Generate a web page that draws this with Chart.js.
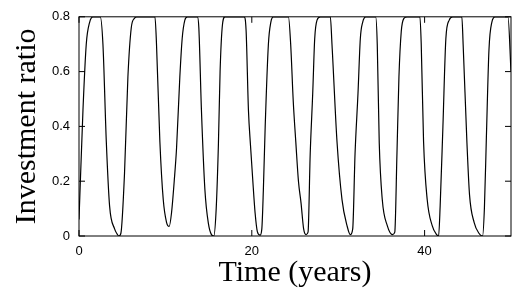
<!DOCTYPE html>
<html>
<head>
<meta charset="utf-8">
<script src="https://cdn.jsdelivr.net/npm/chart.js@4.4.1/dist/chart.umd.min.js"></script>
<style>
  html, body { margin: 0; padding: 0; background: #fff; }
</style>
</head>
<body>
<canvas id="chart" width="512" height="296"></canvas>
<script>
// time in years
const years = [
  0, 0.46, 0.84, 1.23, 1.62, 2.46, 2.77, 3.16, 3.54, 4.12, 4.4, 4.62, 4.85, 5.27, 5.66, 6.05, 6.43, 6.7,
  8.79, 8.97, 9.36, 9.75, 10.13, 10.44, 10.71, 11.02, 11.29, 11.67, 11.94, 12.25, 12.55,
  13.71, 13.87, 14.17, 14.57, 14.98, 15.33, 15.6, 15.88, 16.14, 16.33, 16.6, 16.9,
  19.11, 19.34, 19.61, 19.85, 20.1, 20.38, 20.65, 20.96, 21.16, 21.34, 21.55, 21.92, 22.2, 22.5,
  24.24, 24.5, 24.8, 25.1, 25.4, 25.7, 26.0, 26.28, 26.51, 26.76, 27.05, 27.28, 27.55, 27.93,
  29.09, 29.28, 29.86, 30.44, 31.02, 31.4, 31.68, 31.95, 32.29, 32.56, 32.83, 33.21,
  34.34, 34.52, 34.75, 35.1, 35.68, 36.3, 36.55, 36.8, 37.03, 37.3, 37.6, 37.99,
  39.46, 39.61, 39.88, 40.3, 40.88, 41.39, 41.62, 41.8, 42.12, 42.46, 42.85, 43.24,
  44.31, 44.46, 44.9, 45.2, 45.73, 46.31, 46.71, 46.92, 47.15, 47.45, 47.78, 48.17,
  49.65, 50
];

// investment ratio at each time
const ratios = [
  0.06, 0.46, 0.70, 0.78, 0.80, 0.80, 0.70, 0.345, 0.11, 0.026, 0.008, 0.0, 0.01, 0.23, 0.58, 0.76, 0.795, 0.80,
  0.80, 0.70, 0.345, 0.133, 0.05, 0.035, 0.085, 0.20, 0.32, 0.58, 0.72, 0.788, 0.80,
  0.80, 0.76, 0.46, 0.17, 0.045, 0.005, 0.0, 0.10, 0.34, 0.60, 0.77, 0.80,
  0.80, 0.75, 0.46, 0.33, 0.21, 0.085, 0.015, 0.003, 0.026, 0.17, 0.40, 0.70, 0.78, 0.80,
  0.80, 0.70, 0.49, 0.34, 0.20, 0.12, 0.026, 0.005, 0.014, 0.30, 0.52, 0.72, 0.788, 0.80,
  0.80, 0.70, 0.345, 0.133, 0.038, 0.005, 0.026, 0.30, 0.52, 0.72, 0.78, 0.80,
  0.80, 0.70, 0.34, 0.133, 0.038, 0.005, 0.014, 0.30, 0.58, 0.747, 0.794, 0.80,
  0.80, 0.70, 0.345, 0.133, 0.038, 0.005, 0.0, 0.109, 0.40, 0.72, 0.788, 0.80,
  0.80, 0.70, 0.34, 0.15, 0.05, 0.009, 0.0, 0.10, 0.36, 0.68, 0.78, 0.80,
  0.80, 0.60
];

const xTicks = [0, 20, 40];
const yTicks = [0, 0.2, 0.4, 0.6, 0.8];

const tickFont = { family: '"Liberation Sans", Arial, sans-serif', size: 13 };
const titleFont = { family: '"Liberation Serif", "Times New Roman", serif', size: 30, lineHeight: 1 };

// box around the plot with ticks pointing inwards on all four sides
const frameTicks = {
  id: 'frameTicks',
  afterDatasetsDraw(chart) {
    const { ctx, chartArea: a, scales: { x, y } } = chart;
    const len = 6;
    ctx.save();
    ctx.strokeStyle = '#000';
    ctx.lineWidth = 1;
    ctx.strokeRect(a.left, a.top, a.right - a.left, a.bottom - a.top);
    ctx.beginPath();
    x.ticks.forEach(t => {
      const px = x.getPixelForValue(t.value);
      ctx.moveTo(px, a.bottom); ctx.lineTo(px, a.bottom - len);
      ctx.moveTo(px, a.top); ctx.lineTo(px, a.top + len);
    });
    y.ticks.forEach(t => {
      const py = y.getPixelForValue(t.value);
      ctx.moveTo(a.left, py); ctx.lineTo(a.left + len, py);
      ctx.moveTo(a.right, py); ctx.lineTo(a.right - len, py);
    });
    ctx.stroke();
    ctx.restore();
  }
};

new Chart(document.getElementById('chart'), {
  type: 'line',
  data: {
    datasets: [{
      data: years.map((t, i) => ({ x: t, y: ratios[i] })),
      borderColor: '#000',
      borderWidth: 1.2,
      pointRadius: 0,
      cubicInterpolationMode: 'monotone',
      fill: false
    }]
  },
  options: {
    responsive: false,
    animation: false,
    layout: { padding: { top: 10, right: 1, left: 0, bottom: 0 } },
    plugins: { legend: { display: false }, tooltip: { enabled: false } },
    scales: {
      x: {
        type: 'linear',
        min: 0,
        max: 50,
        afterBuildTicks: s => { s.ticks = xTicks.map(v => ({ value: v })); },
        afterFit: s => { s.height = 60; },
        grid: { display: false, drawTicks: false },
        border: { display: false },
        ticks: { color: '#000', font: tickFont, padding: 8, maxRotation: 0 },
        title: { display: true, text: 'Time (years)', color: '#000', font: titleFont, padding: { top: 0, bottom: 8 } }
      },
      y: {
        min: 0,
        max: 0.8,
        afterBuildTicks: s => { s.ticks = yTicks.map(v => ({ value: v })); },
        afterFit: s => { s.width = 79; },
        grid: { display: false, drawTicks: false },
        border: { display: false },
        ticks: { color: '#000', font: tickFont, padding: 9 },
        title: { display: true, text: 'Investment ratio', color: '#000', font: titleFont, padding: { top: 12, bottom: 0 } }
      }
    }
  },
  plugins: [frameTicks]
});
</script>
</body>
</html>
